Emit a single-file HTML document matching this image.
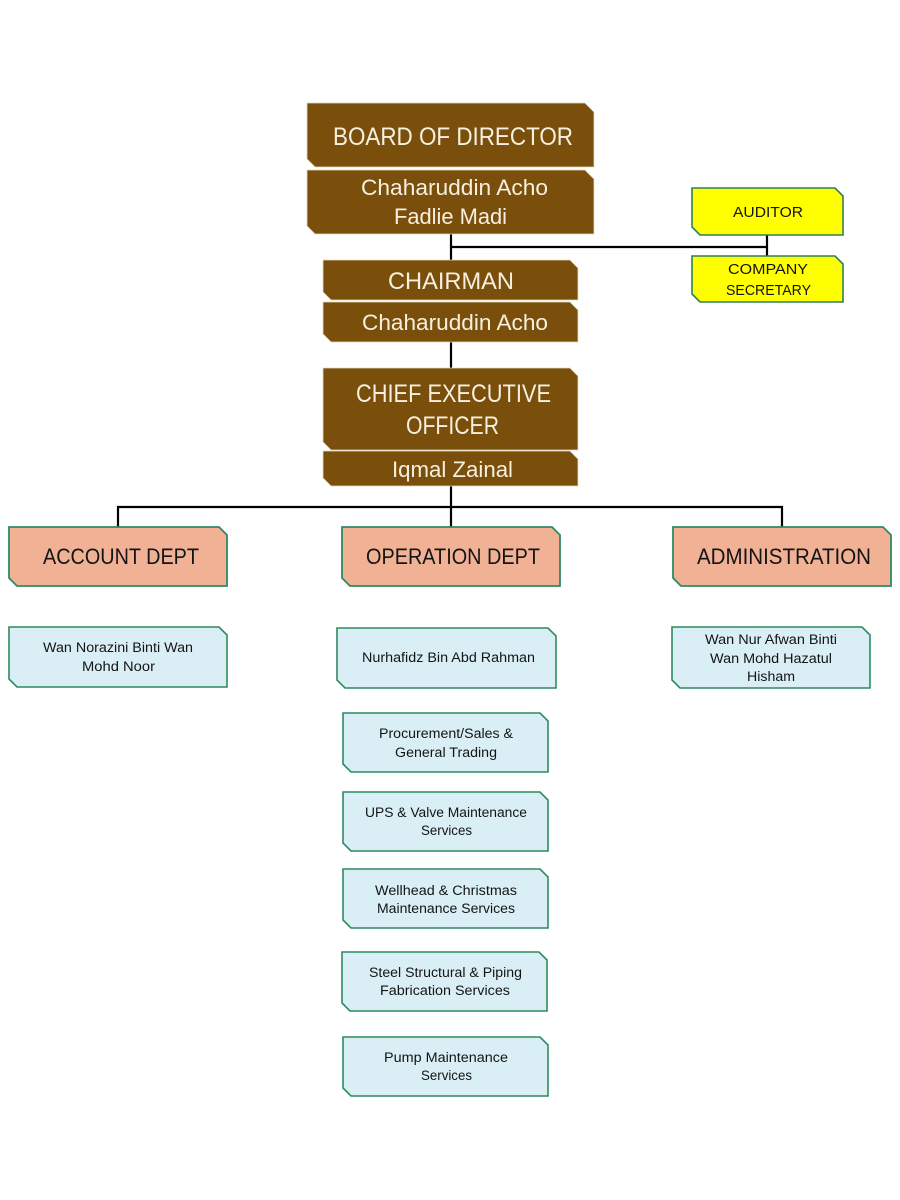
<!DOCTYPE html>
<html><head><meta charset="utf-8"><style>
html,body{margin:0;padding:0;background:#fff;}
svg{display:block;}
text{font-family:"Liberation Sans",sans-serif;}
.w{fill:#f7f0e0;}
.d{fill:#141414;}
</style></head><body>
<svg width="900" height="1200" viewBox="0 0 900 1200" xmlns="http://www.w3.org/2000/svg">
<g stroke="#000" stroke-width="2.2" fill="none">
<line x1="451" y1="234" x2="451" y2="261"/>
<line x1="451" y1="247" x2="767" y2="247"/>
<line x1="767" y1="235" x2="767" y2="257"/>
<line x1="451" y1="342" x2="451" y2="369"/>
<line x1="451" y1="486" x2="451" y2="528"/>
<polyline points="118,528 118,507 782,507 782,528"/>
</g>
<!-- brown boxes -->
<g fill="#7a4f0b" stroke="#e8dcc0" stroke-width="0.8">
<polygon points="307,103 585,103 594,112 594,167 315,167 307,159"/>
<polygon points="307,170 585,170 594,179 594,234 315,234 307,226"/>
<polygon points="323,260 570,260 578,268 578,300 331,300 323,292"/>
<polygon points="323,302 570,302 578,310 578,342 331,342 323,334"/>
<polygon points="323,368 570,368 578,376 578,450 331,450 323,442"/>
<polygon points="323,451 570,451 578,459 578,486 331,486 323,478"/>
</g>
<!-- yellow -->
<g fill="#ffff00" stroke="#2e7f5c" stroke-width="1.6">
<polygon points="692,188 835,188 843,196 843,235 700,235 692,227"/>
<polygon points="692,256 835,256 843,264 843,302 700,302 692,294"/>
</g>
<!-- salmon -->
<g fill="#f0b195" stroke="#2e8a60" stroke-width="1.8">
<polygon points="9,527 219,527 227,535 227,586 17,586 9,578"/>
<polygon points="342,527 552,527 560,535 560,586 350,586 342,578"/>
<polygon points="673,527 883,527 891,535 891,586 681,586 673,578"/>
</g>
<!-- light blue -->
<g fill="#d9eff5" stroke="#2e8a60" stroke-width="1.6">
<polygon points="9,627 219,627 227,635 227,687 17,687 9,679"/>
<polygon points="337,628 548,628 556,636 556,688 345,688 337,680"/>
<polygon points="672,627 862,627 870,635 870,688 680,688 672,680"/>
<polygon points="343,713 540,713 548,721 548,772 351,772 343,764"/>
<polygon points="343,792 540,792 548,800 548,851 351,851 343,843"/>
<polygon points="343,869 540,869 548,877 548,928 351,928 343,920"/>
<polygon points="342,952 539,952 547,960 547,1011 350,1011 342,1003"/>
<polygon points="343,1037 540,1037 548,1045 548,1096 351,1096 343,1088"/>
</g>
<!-- brown text -->
<g class="w">
<text x="333" y="145" font-size="25" textLength="240" lengthAdjust="spacingAndGlyphs">BOARD OF DIRECTOR</text>
<text x="361" y="195" font-size="22" textLength="187" lengthAdjust="spacingAndGlyphs">Chaharuddin Acho</text>
<text x="394" y="224" font-size="22" textLength="113" lengthAdjust="spacingAndGlyphs">Fadlie Madi</text>
<text x="388" y="289" font-size="24" textLength="126" lengthAdjust="spacingAndGlyphs">CHAIRMAN</text>
<text x="362" y="330" font-size="22" textLength="186" lengthAdjust="spacingAndGlyphs">Chaharuddin Acho</text>
<text x="356" y="402" font-size="25" textLength="195" lengthAdjust="spacingAndGlyphs">CHIEF EXECUTIVE</text>
<text x="406" y="434" font-size="25" textLength="93" lengthAdjust="spacingAndGlyphs">OFFICER</text>
<text x="392" y="477" font-size="22" textLength="121" lengthAdjust="spacingAndGlyphs">Iqmal Zainal</text>
</g>
<g class="d">
<text x="733" y="217" font-size="15" textLength="70" lengthAdjust="spacingAndGlyphs">AUDITOR</text>
<text x="728" y="274" font-size="15" textLength="80" lengthAdjust="spacingAndGlyphs">COMPANY</text>
<text x="726" y="295" font-size="15" textLength="85" lengthAdjust="spacingAndGlyphs">SECRETARY</text>
<text x="43" y="564" font-size="22" textLength="156" lengthAdjust="spacingAndGlyphs">ACCOUNT DEPT</text>
<text x="366" y="564" font-size="22" textLength="174" lengthAdjust="spacingAndGlyphs">OPERATION DEPT</text>
<text x="697" y="564" font-size="22" textLength="174" lengthAdjust="spacingAndGlyphs">ADMINISTRATION</text>
<g font-size="13.5">
<text x="43" y="652" textLength="150" lengthAdjust="spacingAndGlyphs">Wan Norazini Binti Wan</text>
<text x="82" y="671" textLength="73" lengthAdjust="spacingAndGlyphs">Mohd Noor</text>
<text x="362" y="662" textLength="173" lengthAdjust="spacingAndGlyphs">Nurhafidz Bin Abd Rahman</text>
<text x="705" y="644" textLength="132" lengthAdjust="spacingAndGlyphs">Wan Nur Afwan Binti</text>
<text x="710" y="663" textLength="122" lengthAdjust="spacingAndGlyphs">Wan Mohd Hazatul</text>
<text x="747" y="681" textLength="48" lengthAdjust="spacingAndGlyphs">Hisham</text>
<text x="379" y="738" textLength="134" lengthAdjust="spacingAndGlyphs">Procurement/Sales &amp;</text>
<text x="395" y="757" textLength="102" lengthAdjust="spacingAndGlyphs">General Trading</text>
<text x="365" y="817" textLength="162" lengthAdjust="spacingAndGlyphs">UPS &amp; Valve Maintenance</text>
<text x="421" y="835" textLength="51" lengthAdjust="spacingAndGlyphs">Services</text>
<text x="375" y="895" textLength="142" lengthAdjust="spacingAndGlyphs">Wellhead  &amp; Christmas</text>
<text x="377" y="913" textLength="138" lengthAdjust="spacingAndGlyphs">Maintenance Services</text>
<text x="369" y="977" textLength="153" lengthAdjust="spacingAndGlyphs">Steel Structural &amp; Piping</text>
<text x="380" y="995" textLength="130" lengthAdjust="spacingAndGlyphs">Fabrication  Services</text>
<text x="384" y="1062" textLength="124" lengthAdjust="spacingAndGlyphs">Pump Maintenance</text>
<text x="421" y="1080" textLength="51" lengthAdjust="spacingAndGlyphs">Services</text>
</g>
</g>
</svg>
</body></html>
